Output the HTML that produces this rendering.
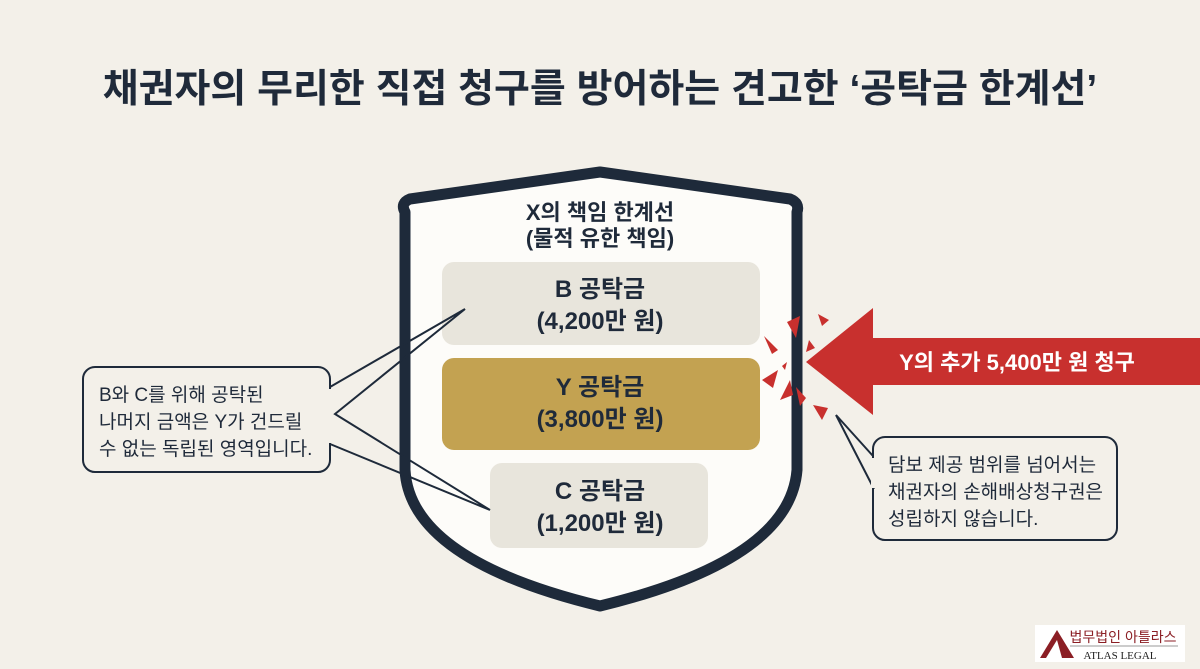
<!DOCTYPE html>
<html><head><meta charset="utf-8"><style>
body{margin:0;width:1200px;height:669px;background:#f3f0e9;overflow:hidden;font-family:"Liberation Sans","Noto Sans CJK KR",sans-serif;}
</style></head><body>
<svg width="1200" height="669" viewBox="0 0 1200 669" xmlns="http://www.w3.org/2000/svg" style="position:absolute;left:0;top:0">
<text x="600" y="102" text-anchor="middle" font-size="39" font-weight="bold" fill="#1f2a3a" font-family="Liberation Sans, Noto Sans CJK KR, sans-serif">채권자의 무리한 직접 청구를 방어하는 견고한 ‘공탁금 한계선’</text>
<path d="M405 212 Q400 203 410 199 L600 172 L790 199 Q800 203 797 212 L797 470 Q790 560 600 606 Q410 560 405 470 Z" fill="#fdfcf9" stroke="#1e2a3a" stroke-width="11" stroke-linejoin="round"/>
<g font-family="Liberation Sans, Noto Sans CJK KR, sans-serif" font-weight="bold" fill="#1f2a3a" text-anchor="middle">
<text x="600" y="220" font-size="22">X의 책임 한계선</text>
<text x="600" y="246" font-size="22">(물적 유한 책임)</text>
<rect x="442" y="262" width="318" height="83" rx="12" fill="#e8e5dc"/>
<text x="600" y="297" font-size="24">B 공탁금</text>
<text x="600" y="329" font-size="24">(4,200만 원)</text>
<rect x="442" y="358" width="318" height="92" rx="12" fill="#c3a251"/>
<text x="600" y="395" font-size="24">Y 공탁금</text>
<text x="600" y="427" font-size="24">(3,800만 원)</text>
<rect x="490" y="463" width="218" height="85" rx="12" fill="#e8e5dc"/>
<text x="600" y="499" font-size="24">C 공탁금</text>
<text x="600" y="531" font-size="24">(1,200만 원)</text>
</g>
<rect x="83" y="367" width="247" height="105" rx="12" fill="#f3f0e9" stroke="#1e2a3a" stroke-width="2"/>
<polyline points="330,387 465,309 335,414 490,510 330,444" fill="none" stroke="#1e2a3a" stroke-width="2" stroke-linejoin="miter"/>
<rect x="328" y="389" width="4" height="54" fill="#f3f0e9"/>
<g font-size="19" fill="#1f2a3a" font-family="Liberation Sans, Noto Sans CJK KR, sans-serif">
<text x="99" y="401">B와 C를 위해 공탁된</text>
<text x="99" y="428">나머지 금액은 Y가 건드릴</text>
<text x="99" y="455">수 없는 독립된 영역입니다.</text>
</g>
<polygon points="806,362 873,308 873,338 1200,338 1200,385 873,385 873,415" fill="#c8302e"/>
<text x="1017" y="370" text-anchor="middle" font-size="22" font-weight="bold" fill="#fff" font-family="Liberation Sans, Noto Sans CJK KR, sans-serif">Y의 추가 5,400만 원 청구</text>
<g fill="#c8302e">
<polygon points="787,322 800,316 796,338"/>
<polygon points="818,314 829,320 822,326"/>
<polygon points="764,336 778,350 772,354"/>
<polygon points="809,340 815,348 806,352"/>
<polygon points="762,380 778,370 773,388"/>
<polygon points="796,387 806,398 800,406"/>
<polygon points="790,380 793,395 780,400"/>
<polygon points="813,405 828,408 822,420"/>
<polygon points="782,366 787,362 785,370"/>
</g>
<rect x="873" y="437" width="244" height="103" rx="12" fill="#f3f0e9" stroke="#1e2a3a" stroke-width="2"/>
<polyline points="873,456 836,415 874,489" fill="none" stroke="#1e2a3a" stroke-width="2"/>
<rect x="871" y="458" width="4" height="30" fill="#f3f0e9"/>
<g font-size="19" fill="#1f2a3a" font-family="Liberation Sans, Noto Sans CJK KR, sans-serif">
<text x="888" y="471">담보 제공 범위를 넘어서는</text>
<text x="888" y="498">채권자의 손해배상청구권은</text>
<text x="888" y="525">성립하지 않습니다.</text>
</g>
<rect x="1035" y="625" width="150" height="37" fill="#ffffff"/>
<polygon points="1040,658 1057,630 1074,658" fill="#8b1e24"/>
<polygon points="1046,658 1057,640 1062,658" fill="#fff"/>
<line x1="1070" y1="646" x2="1178" y2="646" stroke="#999" stroke-width="1"/>
<text x="1123" y="642" text-anchor="middle" font-size="14" fill="#8b1e24" font-family="Liberation Sans, Noto Sans CJK KR, sans-serif">법무법인 아틀라스</text>
<text x="1120" y="659" text-anchor="middle" font-size="11" fill="#222" font-family="Liberation Serif, serif">ATLAS LEGAL</text>
</svg>
</body></html>
